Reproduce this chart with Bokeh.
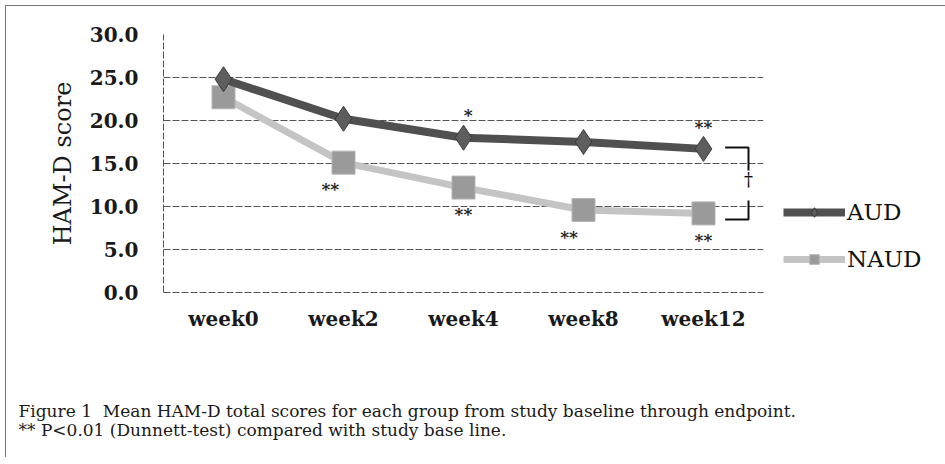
from bokeh.plotting import figure
from bokeh.models import (FactorRange, Range1d, Legend, LegendItem, Title,
                          FixedTicker, NumeralTickFormatter, ColumnDataSource)
from bokeh.core.properties import value
from bokeh.embed import file_html
from bokeh.resources import INLINE

# ---------------- data ----------------
weeks = ["week0", "week2", "week4", "week8", "week12"]
aud = [24.8, 20.2, 18.0, 17.5, 16.7]
naud = [22.7, 15.1, 12.2, 9.6, 9.2]
y_ticks = [0, 5, 10, 15, 20, 25, 30]

# significance marks: text, week, series they belong to
sig_text = ["*", "**", "**", "**", "**", "**"]
sig_week = ["week4", "week12", "week2", "week4", "week8", "week12"]
sig_series = ["AUD", "AUD", "NAUD", "NAUD", "NAUD", "NAUD"]

caption1 = "Figure 1\u00a0 Mean HAM-D total scores for each group from study baseline through endpoint."
caption2 = "** P<0.01 (Dunnett-test) compared with study base line."

SERIF = value("DejaVu Serif")

p = figure(frame_width=600, frame_height=258,
           x_range=FactorRange(*weeks, range_padding=0),
           y_range=Range1d(0, 30), output_backend="svg", toolbar_location=None,
           min_border_left=163, min_border_right=166, min_border_top=34,
           min_border_bottom=0)
p.border_fill_color = None
p.styles = {"box-shadow": "inset 5px 5px 0 0 white, inset 6px 6px 0 0 #7a7a7a",
            "background": "white"}
p.outline_line_color = None
p.background_fill_color = "white"

# grid
p.xgrid.grid_line_color = None
p.ygrid.grid_line_color = "#555555"
p.ygrid.grid_line_dash = "7 2"
p.ygrid.grid_line_width = 1

# axes
p.yaxis.ticker = FixedTicker(ticks=y_ticks)
p.yaxis.formatter = NumeralTickFormatter(format="0.0")
for ax in (p.xaxis[0], p.yaxis[0]):
    ax.axis_line_color = "#555555"
    ax.axis_line_dash = "7 2"
    ax.major_tick_line_color = None
    ax.minor_tick_line_color = None
    ax.major_label_text_font = "DejaVu Serif"
    ax.major_label_text_font_style = "bold"
    ax.major_label_text_font_size = "20px"
    ax.major_label_text_color = "#1a1a1a"
p.yaxis.major_label_standoff = 19
p.xaxis.major_label_standoff = 8
p.yaxis.axis_label = "HAM-D score"
p.yaxis.axis_label_text_font = "DejaVu Serif"
p.yaxis.axis_label_text_font_style = "normal"
p.yaxis.axis_label_text_font_size = "24px"
p.yaxis.axis_label_text_color = "#1a1a1a"
p.yaxis.axis_label_standoff = 10

src = ColumnDataSource(dict(week=weeks, aud=aud, naud=naud))

# NAUD series
ln_n = p.line("week", "naud", source=src, line_color="#c4c4c4", line_width=7)
mk_n = p.scatter("week", "naud", source=src, marker="square", size=23,
                 fill_color="#9a9a9a", line_color="#b5b5b5", line_width=1)
# AUD series
ln_a = p.line("week", "aud", source=src, line_color="#505050", line_width=8)
mk_a = p.scatter("week", "aud", source=src, marker="diamond", size=25,
                 fill_color="#5e5e5e", line_color="#3a3a3a", line_width=1)

# significance marks
idx = {w: i for i, w in enumerate(weeks)}
sx, sy = [], []
dx = {"week2": -0.11, "week4": 0.0, "week8": -0.12, "week12": 0.0}
for t, w, s in zip(sig_text, sig_week, sig_series):
    i = idx[w]
    base = aud[i] if s == "AUD" else naud[i]
    off = 2.6 if s == "AUD" else -3.1
    xo = 0.04 if (s == "AUD" and t == "*") else dx[w]
    sx.append(i + 0.5 + xo)
    sy.append(base + off)
p.text(x=sx, y=sy, text=sig_text, text_font=SERIF, text_font_size="17px",
       text_font_style="bold", text_align="center", text_baseline="middle",
       text_color="#222222")

# bracket with dagger between groups at week12
i12 = idx["week12"] + 0.5
bx0, bx1 = i12 + 0.18, i12 + 0.375
ytop, ybot = aud[-1] + 0.15, naud[-1] - 0.7
p.multi_line(xs=[[bx0, bx1, bx1], [bx1, bx1, bx0]],
             ys=[[ytop, ytop, 14.2], [10.7, ybot, ybot]],
             line_color="#111111", line_width=2)
p.text(x=[bx1], y=[13.1], text=["\u2020"], text_font=SERIF, text_font_size="18px",
       text_align="center", text_baseline="middle", text_color="#111111")

# legend (in the right side panel)
legend = Legend(items=[LegendItem(label="AUD", renderers=[ln_a, mk_a]),
                       LegendItem(label="NAUD", renderers=[ln_n, mk_n])],
                location="bottom_left", orientation="vertical",
                glyph_width=62, glyph_height=24, label_height=24,
                label_standoff=2, spacing=21, padding=0, margin=20,
                border_line_color=None, background_fill_alpha=0,
                label_text_font="DejaVu Serif", label_text_font_size="23px",
                label_text_color="#111111")
p.add_layout(legend, "right")

# spacer, the two-line caption, and a bottom spacer
p.add_layout(Title(text="\u00a0", align="left", standoff=61,
                   text_font="DejaVu Serif", text_font_size="2px"), "below")
p.add_layout(Title(text=caption1 + "\n" + caption2, align="left", offset=-145,
                   standoff=2, text_line_height=0.97,
                   text_font="DejaVu Serif", text_font_size="17px",
                   text_font_style="normal", text_color="#1a1a1a"), "below")
p.add_layout(Title(text="\u00a0", align="left", standoff=12,
                   text_font="DejaVu Serif", text_font_size="2px"), "below")

open("out.html", "w").write(file_html(p, INLINE))
